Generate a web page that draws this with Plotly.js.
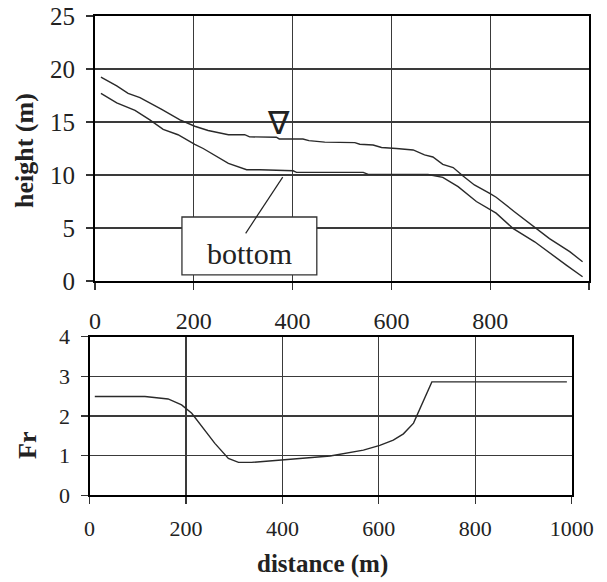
<!DOCTYPE html>
<html>
<head>
<meta charset="utf-8">
<script src="https://cdn.plot.ly/plotly-3.0.1.min.js"></script>
<style>html,body{margin:0;padding:0;background:#fff;}#chart{width:607px;height:582px;}</style>
</head>
<body>
<div id="chart"></div>
<script>
// Water surface profile (upper line)
const distSurface = [12, 44, 67, 91, 135, 172, 202, 229, 270, 303, 313, 367, 373, 421, 433, 465, 526, 536, 563, 580, 610, 644, 667, 684, 704, 725, 745, 768, 799, 812, 849, 890, 920, 961, 987];
const heightSurface = [19.24, 18.4, 17.7, 17.3, 16.2, 15.2, 14.6, 14.2, 13.8, 13.8, 13.6, 13.56, 13.4, 13.4, 13.24, 13.1, 13.05, 12.9, 12.83, 12.6, 12.5, 12.36, 11.9, 11.7, 11.0, 10.7, 9.9, 9.06, 8.27, 7.9, 6.54, 5.06, 4.0, 2.77, 1.82];
// Channel bottom profile (lower line)
const distBottom = [12, 44, 81, 111, 138, 168, 202, 219, 270, 307, 334, 401, 408, 543, 553, 657, 674, 704, 735, 772, 799, 812, 846, 890, 954, 987];
const heightBottom = [17.7, 16.8, 16.1, 15.2, 14.3, 13.8, 12.9, 12.5, 11.1, 10.5, 10.5, 10.4, 10.25, 10.25, 10.06, 10.06, 10.05, 9.78, 8.9, 7.5, 6.76, 6.4, 4.97, 3.7, 1.5, 0.4];
// Froude number
const distFr = [11, 115, 163, 191, 212, 233, 260, 288, 309, 336, 405, 499, 568, 602, 630, 651, 672, 710, 990];
const froude = [2.49, 2.49, 2.43, 2.28, 2.07, 1.73, 1.31, 0.93, 0.83, 0.83, 0.9, 0.99, 1.14, 1.26, 1.39, 1.55, 1.82, 2.86, 2.86];

const xTickVals = [0, 200, 400, 600, 800, 1000];
const xTickTop = ["0", "200", "400", "600", "800", ""];
const xTickBottom = ["0", "200", "400", "600", "800", "1000"];

const FONT = "Liberation Serif";
const TXT = "#222";
const lineStyle = {color: "#2a2a2a", width: 1.4};
const gridC = "#3a3a3a";

const traces = [
  {x: distSurface, y: heightSurface, type: "scatter", mode: "lines", line: lineStyle, xaxis: "x", yaxis: "y", hoverinfo: "skip"},
  {x: distBottom, y: heightBottom, type: "scatter", mode: "lines", line: lineStyle, xaxis: "x", yaxis: "y", hoverinfo: "skip"},
  {x: distFr, y: froude, type: "scatter", mode: "lines", line: lineStyle, xaxis: "x2", yaxis: "y2", hoverinfo: "skip"}
];

const W = 607, H = 582;
function px(a, b) { return [a / W, b / W]; }
function py(top, bottom) { return [1 - bottom / H, 1 - top / H]; }

const axCommon = {
  showline: true, mirror: true, linecolor: "#000", linewidth: 2,
  showgrid: true, gridcolor: gridC, gridwidth: 1.3,
  zeroline: false, ticks: "outside", ticklen: 7, tickcolor: "#333", tickwidth: 1.3,
  fixedrange: true
};

const layout = {
  width: W, height: H,
  margin: {l: 0, r: 0, t: 0, b: 0},
  paper_bgcolor: "#fff", plot_bgcolor: "#fff",
  showlegend: false,
  font: {family: FONT, color: TXT},
  xaxis: Object.assign({}, axCommon, {
    domain: px(95, 589), range: [0, 1000], tickvals: xTickVals, ticktext: xTickTop,
    tickfont: {family: FONT, size: 24, color: TXT}, ticklabelstandoff: 10, anchor: "y"
  }),
  yaxis: Object.assign({}, axCommon, {
    domain: py(16, 281), range: [0, 25], dtick: 5, tick0: 0,
    tickfont: {family: FONT, size: 25, color: TXT}, ticklabelstandoff: 6, anchor: "x"
  }),
  xaxis2: Object.assign({}, axCommon, {
    domain: px(89.5, 571.7), range: [0, 1000], tickvals: xTickVals, ticktext: xTickBottom,
    tickfont: {family: FONT, size: 22, color: TXT}, ticklabelstandoff: 5, anchor: "y2"
  }),
  yaxis2: Object.assign({}, axCommon, {
    domain: py(336.7, 495.3), range: [0, 4], dtick: 1, tick0: 0,
    tickfont: {family: FONT, size: 22, color: TXT}, ticklabelstandoff: 6, anchor: "x2"
  }),
  shapes: [
    {type: "rect", xref: "x", yref: "y", x0: 176, x1: 449, y0: 0.57, y1: 6.04,
     fillcolor: "#fff", line: {color: "#333", width: 1.3}, layer: "above"},
    {type: "line", xref: "x", yref: "y", x0: 305, y0: 4.5, x1: 380, y1: 9.8,
     line: {color: "#222", width: 1.2}, layer: "above"}
  ],
  annotations: [
    {xref: "x", yref: "y", x: 312.5, y: 2.6, text: "bottom", showarrow: false,
     font: {family: FONT, size: 30, color: TXT}, xanchor: "center", yanchor: "middle"},
    {xref: "x", yref: "y", x: 372, y: 14.95, text: "∇", showarrow: false,
     font: {family: FONT, size: 32, color: TXT}, xanchor: "center", yanchor: "middle"},
    {xref: "paper", yref: "paper", x: 25 / W, y: 1 - 151 / H, text: "<b>height (m)</b>", showarrow: false,
     textangle: -90, font: {family: FONT, size: 26, color: TXT}, xanchor: "center", yanchor: "middle"},
    {xref: "paper", yref: "paper", x: 27 / W, y: 1 - 446 / H, text: "<b>Fr</b>", showarrow: false,
     textangle: -90, font: {family: FONT, size: 26, color: TXT}, xanchor: "center", yanchor: "middle"},
    {xref: "paper", yref: "paper", x: 322 / W, y: 1 - 564 / H, text: "<b>distance (m)</b>", showarrow: false,
     font: {family: FONT, size: 25, color: TXT}, xanchor: "center", yanchor: "middle"}
  ]
};

Plotly.newPlot("chart", traces, layout, {staticPlot: true, displayModeBar: false});
</script>
</body>
</html>
